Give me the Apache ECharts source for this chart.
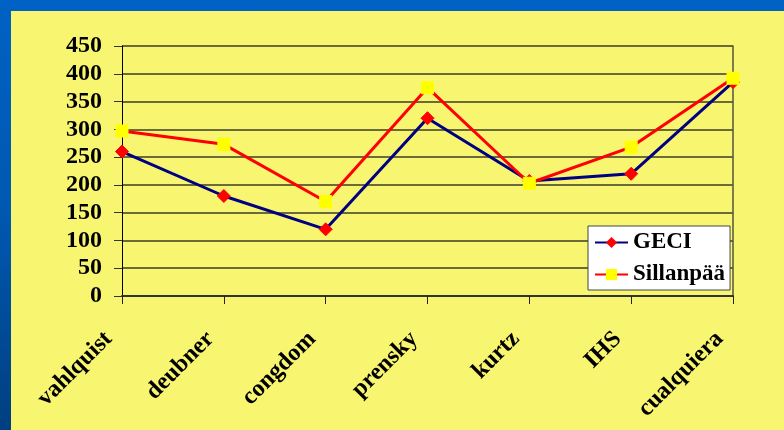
<!DOCTYPE html>
<html>
<head>
<meta charset="utf-8">
<script src="https://cdn.jsdelivr.net/npm/echarts@6/dist/echarts.min.js"></script>
<style>
html,body{margin:0;padding:0;}
body{width:784px;height:430px;overflow:hidden;background:linear-gradient(180deg,#0062c4 0%,#0058b0 50%,#003f80 100%);}
#chart{width:784px;height:430px;}
</style>
</head>
<body>
<div id="chart"></div>
<script>
const categories = ['vahlquist','deubner','congdom','prensky','kurtz','IHS','cualquiera'];
const geci = [260, 180, 120, 320, 207, 220, 385];
const sillanpaa = [297, 273, 170, 375, 203, 268, 392];
const seriesNames = ['GECI', 'Sillanpää'];

const serif = '"Liberation Serif", "Times New Roman", serif';
const chart = echarts.init(document.getElementById('chart'));
chart.setOption({
  backgroundColor: 'transparent',
  animation: false,
  graphic: [{
    type: 'rect', z: -100, silent: true,
    shape: {x: 11, y: 11, width: 773, height: 419},
    style: {fill: '#f8f570'}
  }],
  grid: {left: 122, right: 51, top: 46, bottom: 134, containLabel: false},
  legend: {
    orient: 'vertical',
    left: 588, top: 226,
    padding: [5, 5, 4, 6],
    itemGap: 9,
    itemWidth: 33, itemHeight: 14,
    backgroundColor: '#ffffff',
    borderColor: '#444444', borderWidth: 1,
    textStyle: {fontFamily: serif, fontWeight: 'bold', fontSize: 23, color: '#000'},
    data: seriesNames
  },
  xAxis: {
    type: 'category',
    data: categories,
    boundaryGap: false,
    axisLine: {lineStyle: {color: '#333', width: 2}},
    axisTick: {show: true, length: 8, alignWithLabel: true, lineStyle: {color: '#222', width: 1}},
    axisLabel: {rotate: 45, margin: 26, interval: 0, padding: [0, 19, 0, 0], fontFamily: serif, fontWeight: 'bold', fontSize: 24, color: '#000'}
  },
  yAxis: [{
    type: 'value', min: 0, max: 450, interval: 50,
    axisLine: {show: true, lineStyle: {color: '#000', width: 1}},
    axisTick: {show: true, length: 8, lineStyle: {color: '#333', width: 1}},
    axisLabel: {margin: 20, fontFamily: serif, fontWeight: 'bold', fontSize: 24, color: '#000'},
    splitLine: {show: true, lineStyle: {color: '#3d3d28', width: 1.5}}
  }, {
    type: 'value', min: 0, max: 450, interval: 50, position: 'right',
    axisLine: {show: true, lineStyle: {color: '#555540', width: 1.5}},
    axisTick: {show: false}, axisLabel: {show: false}, splitLine: {show: false}
  }],
  series: [{
    name: seriesNames[0], type: 'line', data: geci,
    symbol: 'diamond', symbolSize: 13,
    lineStyle: {color: '#000080', width: 3},
    itemStyle: {color: '#ff0000', borderColor: '#ff0000'},
    color: '#000080'
  }, {
    name: seriesNames[1], type: 'line', data: sillanpaa,
    symbol: 'rect', symbolSize: 12,
    lineStyle: {color: '#ff0000', width: 3},
    itemStyle: {color: '#ffff00', borderColor: '#ffff00'},
    color: '#ff0000'
  }]
});
</script>
</body>
</html>
